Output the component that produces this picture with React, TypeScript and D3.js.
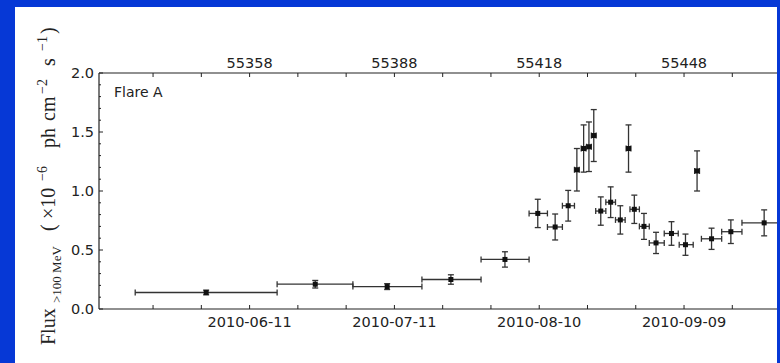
import React from "react";
import * as d3 from "d3";

// ---- data ----
const mjd = [55349.0, 55371.6, 55386.5, 55399.7, 55410.9, 55417.7, 55421.3, 55424.0, 55425.8, 55427.2, 55428.3, 55429.3, 55430.75, 55432.8, 55434.8, 55436.5, 55437.7, 55439.7, 55442.2, 55445.4, 55448.3, 55450.7, 55453.7, 55457.7, 55464.6];
const binLo = [55334.3, 55363.7, 55379.4, 55393.7, 55405.95, 55415.9, 55419.7, 55422.8, 55425.3, 55426.7, 55427.8, 55428.8, 55429.7, 55431.8, 55433.8, 55436.0, 55436.8, 55438.75, 55440.8, 55443.9, 55447.0, 55450.2, 55451.6, 55455.8, 55460.0];
const binHi = [55363.7, 55379.4, 55393.7, 55405.95, 55415.9, 55419.7, 55422.8, 55425.3, 55426.3, 55427.7, 55428.8, 55429.8, 55431.8, 55433.8, 55435.8, 55437.0, 55438.75, 55440.8, 55443.9, 55446.8, 55449.9, 55451.2, 55455.8, 55460.0, 55469.2];
const flux = [0.14, 0.21, 0.19, 0.25, 0.42, 0.81, 0.695, 0.875, 1.18, 1.36, 1.375, 1.47, 0.83, 0.905, 0.755, 1.36, 0.845, 0.70, 0.56, 0.64, 0.545, 1.17, 0.595, 0.655, 0.73];
const fluxErr = [0.02, 0.032, 0.025, 0.04, 0.065, 0.12, 0.11, 0.13, 0.18, 0.2, 0.21, 0.22, 0.12, 0.13, 0.12, 0.2, 0.12, 0.11, 0.09, 0.1, 0.09, 0.17, 0.09, 0.1, 0.11];

const tickMjd = [55338, 55348, 55358, 55368, 55378, 55388, 55398, 55408, 55418, 55428, 55438, 55448, 55458, 55468];
const labelMjd = [55358, 55388, 55418, 55448];
const bottomLabels = ["2010-06-11", "2010-07-11", "2010-08-10", "2010-09-09"];
const topLabels = ["55358", "55388", "55418", "55448"];
const yMajor = [0.0, 0.5, 1.0, 1.5, 2.0];
const yMinor = [0.1, 0.2, 0.3, 0.4, 0.6, 0.7, 0.8, 0.9, 1.1, 1.2, 1.3, 1.4, 1.6, 1.7, 1.8, 1.9];

const W = 780, H = 363;
const L = 99, T = 73, B = 309;
const PXDAY = 4.827;
const MJD0 = 55326.8;
const MJD1 = 55472;
const R = L + (MJD1 - MJD0) * PXDAY;

const BLUE = "#0638d6";
const INK = "#222";

export default function App() {
  const x = d3.scaleLinear().domain([MJD0, MJD1]).range([L, R]);
  const y = d3.scaleLinear().domain([0, 2]).range([B, T]);
  const sans = "DejaVu Sans";
  const serif = "Liberation Serif";
  return (
    <svg width={W} height={H} style={{ position: "absolute", left: 0, top: 0, background: "#fff" }}>
      <rect x={0} y={0} width={W} height={H} fill="#fff" />
      {/* spines */}
      <g stroke={INK} strokeWidth={1.2} fill="none">
        <line x1={L} y1={T} x2={R} y2={T} />
        <line x1={L} y1={B} x2={R} y2={B} />
        <line x1={L} y1={T} x2={L} y2={B} />
        <line x1={R} y1={T} x2={R} y2={B} />
      </g>
      {/* x ticks */}
      <g stroke={INK} strokeWidth={1}>
        {tickMjd.map((m) => (
          <g key={m}>
            <line x1={x(m)} x2={x(m)} y1={B} y2={B - 4} />
            <line x1={x(m)} x2={x(m)} y1={T} y2={T + 4} />
          </g>
        ))}
        {yMajor.map((v) => (
          <line key={v} x1={L} x2={L + 4} y1={y(v)} y2={y(v)} />
        ))}
        {yMinor.map((v) => (
          <line key={v} x1={L} x2={L + 2} y1={y(v)} y2={y(v)} />
        ))}
      </g>
      {/* tick labels */}
      <g fontFamily={sans} fontSize={14.5} fill={INK}>
        {labelMjd.map((m, i) => (
          <text key={"b" + m} x={x(m)} y={B + 18} textAnchor="middle">{bottomLabels[i]}</text>
        ))}
        {labelMjd.map((m, i) => (
          <text key={"t" + m} x={x(m)} y={T - 5} textAnchor="middle">{topLabels[i]}</text>
        ))}
        {yMajor.map((v) => (
          <text key={v} x={L - 5} y={y(v) + 5} textAnchor="end">{v.toFixed(1)}</text>
        ))}
      </g>
      <text x={114} y={97} fontFamily={sans} fontSize={14} fill={INK}>Flare A</text>
      {/* data */}
      <g stroke="#333" strokeWidth={1.3} fill="none">
        {mjd.map((m, i) => {
          const cx = x(m), cy = y(flux[i]);
          const x0 = x(binLo[i]), x1 = x(binHi[i]);
          const y0 = y(flux[i] - fluxErr[i]), y1 = y(flux[i] + fluxErr[i]);
          return (
            <g key={i}>
              <line x1={x0} x2={x1} y1={cy} y2={cy} />
              <line x1={x0} x2={x0} y1={cy - 3} y2={cy + 3} />
              <line x1={x1} x2={x1} y1={cy - 3} y2={cy + 3} />
              <line x1={cx} x2={cx} y1={y0} y2={y1} />
              <line x1={cx - 3} x2={cx + 3} y1={y0} y2={y0} />
              <line x1={cx - 3} x2={cx + 3} y1={y1} y2={y1} />
            </g>
          );
        })}
      </g>
      <g fill="#111">
        {mjd.map((m, i) => (
          <rect key={i} x={x(m) - 2.5} y={y(flux[i]) - 2.5} width={5} height={5} />
        ))}
      </g>
      {/* y label */}
      <g transform="translate(55,345) rotate(-90)" fontFamily={serif} fill="#222">
        <text x={0} y={0} fontSize={20}>Flux</text>
        <text x={42} y={6} fontSize={13}>&gt;100 MeV</text>
        <text x={114} y={0} fontSize={20}>(</text>
        <text x={126} y={0} fontSize={20}>×10</text>
        <text x={164} y={-8} fontSize={14}>−6</text>
        <text x={197} y={0} fontSize={20}>ph</text>
        <text x={224} y={0} fontSize={20}>cm</text>
        <text x={251} y={-8} fontSize={14}>−2</text>
        <text x={279} y={0} fontSize={20}>s</text>
        <text x={294} y={-8} fontSize={14}>−1</text>
        <text x={311} y={0} fontSize={20}>)</text>
      </g>
      {/* blue frame */}
      <rect x={0} y={0} width={15} height={H} fill={BLUE} />
      <rect x={0} y={0} width={W} height={7} fill={BLUE} />
      <rect x={777} y={0} width={3} height={H} fill={BLUE} />
    </svg>
  );
}
